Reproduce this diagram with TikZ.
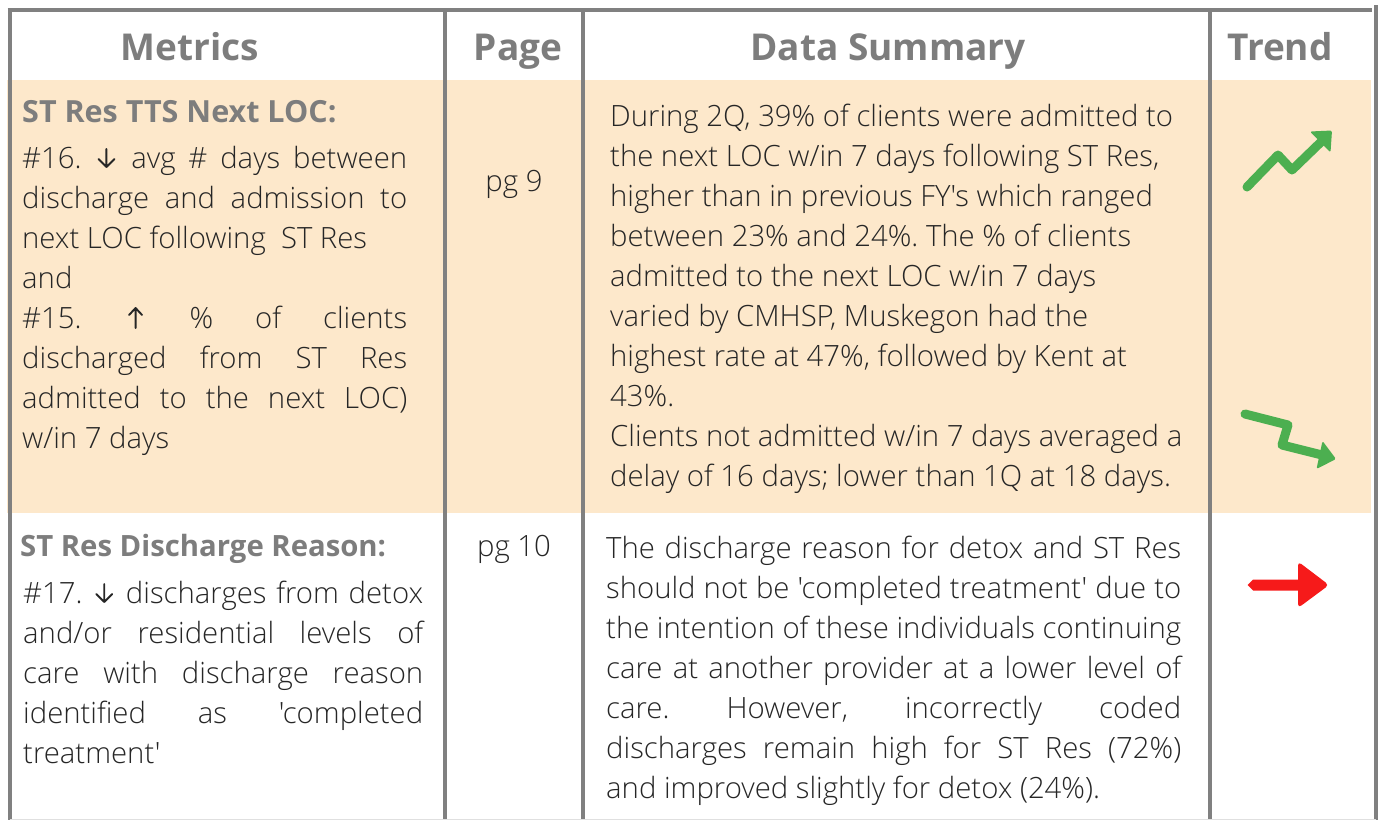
\documentclass[tikz,border=0pt]{standalone}
\usepackage{fontspec}
\newfontfamily\headfont{Open Sans}
\IfFontExistsTF{Open Sans Light}
  {\newfontfamily\bodyfont{Open Sans Light}}
  {\newfontfamily\bodyfont{Open Sans}}
\frenchspacing
\definecolor{peach}{RGB}{253,232,203}
\definecolor{rulegray}{RGB}{128,128,128}
\definecolor{headgray}{RGB}{125,125,125}
\definecolor{ink}{RGB}{38,38,38}
\definecolor{trendgreen}{RGB}{76,175,80}
\definecolor{trendred}{RGB}{246,26,26}
% thin up / down arrows used inside the metric texts
\newsavebox\dnarrowbox
\newsavebox\uparrowbox
\newcommand\arrowglyph[5]{%
  \begin{pgfpicture}
    \pgfsetbaseline{0pt}
    \pgfsetlinewidth{1.9pt}\pgfsetroundcap\pgfsetroundjoin
    \pgfsetstrokecolor{ink}
    \pgfpathmoveto{\pgfpoint{0pt}{#1pt}}\pgfpathlineto{\pgfpoint{0pt}{#2pt}}
    \pgfpathmoveto{\pgfpoint{-#3pt}{#4pt}}\pgfpathlineto{\pgfpoint{0pt}{#2pt}}
    \pgfpathlineto{\pgfpoint{#3pt}{#4pt}}
    \pgfusepath{stroke}
    \pgfpathrectangle{\pgfpoint{-#5pt}{0pt}}{\pgfpoint{2*#5pt}{20pt}}
    \pgfusepath{use as bounding box}
  \end{pgfpicture}}
\newcommand\arrdn{\usebox\dnarrowbox}
\newcommand\arrup{\usebox\uparrowbox}
\tikzset{
  gridline/.style={rulegray, line width=4},
  colhead/.style={anchor=base, inner sep=0, text=headgray, font=\headfont\bfseries\fontsize{37}{44}\selectfont},
  subhead/.style={anchor=base west, inner sep=0, text=headgray, font=\headfont\bfseries\fontsize{29.3}{34}\selectfont},
  bodytext/.style={anchor=base west, inner sep=0, text=ink, font=\bodyfont\fontsize{29.3}{35}\selectfont},
  pagetext/.style={anchor=base, inner sep=0, text=ink, font=\bodyfont\fontsize{29.3}{35}\selectfont},
}
% justified line of a given width, and a plain left-aligned line
\newcommand\jline[4]{\node[bodytext] (#1) at (#2) {\makebox[#3pt][s]{#4}};}
\newcommand\lline[3]{\node[bodytext] (#1) at (#2) {#3};}
\begin{document}
\sbox\dnarrowbox{\arrowglyph{19}{1}{8}{9}{12}}
\sbox\uparrowbox{\arrowglyph{0}{20}{6.5}{13}{12}}
\begin{tikzpicture}[x=1pt,y=-1pt]
\useasboundingbox (0,0) rectangle (1382,820);
% highlighted first row
\fill[peach] (7,80) rectangle (1371,513);
% grid lines
\draw[gridline] (7.5,9.5) -- (1372,9.5);
\draw[gridline] (9.5,8) -- (9.5,820);
\draw[gridline] (445,10) -- (445,820);
\draw[gridline] (582.5,10) -- (582.5,820);
\draw[gridline] (1210,10) -- (1210,820);
\draw[gridline] (1376,5) -- (1376,820);
\draw[black!12, line width=1] (9.5,819) -- (1376,819);
% column headings
\node[colhead] (hMetrics) at (190,60) {Metrics};
\node[colhead] (hPage) at (518,60) {Page};
\node[colhead] (hData) at (888,60) {Data Summary};
\node[colhead] (hTrend) at (1280,60) {Trend};
% row 1: metrics
\node[subhead, font=\headfont\bfseries\fontsize{30.5}{36}\selectfont] (m1t) at (22,122) {ST Res TTS Next LOC:};
\jline{m1a}{22,168}{385}{\#16. \arrdn{} avg \# days between}
\jline{m1b}{22,208}{385}{discharge and admission to}
\lline{m1c}{22,248}{next LOC following \ ST Res}
\lline{m1d}{22,288}{and}
\jline{m1e}{22,328}{385}{\#15. \arrup{} \% of clients}
\jline{m1f}{22,368}{385}{discharged from ST Res}
\jline{m1g}{22,408}{385}{admitted to the next LOC)}
\lline{m1h}{22,448}{w/in 7 days}
% row 1: page
\node[pagetext] (p1) at (514,191) {pg 9};
% row 1: data summary
\lline{d1a}{610,126}{During 2Q, 39\% of clients were admitted to}
\lline{d1b}{610,166}{the next LOC w/in 7 days following ST Res,}
\lline{d1c}{610,206}{higher than in previous FY's which ranged}
\lline{d1d}{610,246}{between 23\% and 24\%. The \% of clients}
\lline{d1e}{610,286}{admitted to the next LOC w/in 7 days}
\lline{d1f}{610,326}{varied by CMHSP, Muskegon had the}
\lline{d1g}{610,366}{highest rate at 47\%, followed by Kent at}
\lline{d1h}{610,406}{43\%.}
\lline{d1i}{610,446}{Clients not admitted w/in 7 days averaged a}
\lline{d1j}{610,486}{delay of 16 days; lower than 1Q at 18 days.}
% row 1: trends
\draw[trendgreen, line width=9, line cap=round, line join=round]
  (1247,187) -- (1278,155) -- (1292,170) -- (1322,141);
\fill[trendgreen, rounded corners=1.5] (1310,131.5) -- (1332,130.5) -- (1330.5,152.5) -- cycle;
\draw[trendgreen, line width=9, line cap=round, line join=round]
  (1245,414) -- (1288,425) -- (1282,445) -- (1322,455);
\fill[trendgreen, rounded corners=1.5] (1322.5,441) -- (1336,459) -- (1316.5,469) -- cycle;
% row 2: metrics
\node[subhead] (m2t) at (20,556) {ST Res Discharge Reason:};
\jline{m2a}{23,603}{400}{\#17. \arrdn{} discharges from detox}
\jline{m2b}{23,643}{400}{and/or residential levels of}
\jline{m2c}{23,683}{400}{care with discharge reason}
\jline{m2d}{23,723}{400}{identified as 'completed}
\lline{m2e}{23,763}{treatment'}
% row 2: page
\node[pagetext] (p2) at (514,556) {pg 10};
% row 2: data summary
\jline{d2a}{606,558}{575}{The discharge reason for detox and ST Res}
\jline{d2b}{606,598}{575}{should not be 'completed treatment' due to}
\jline{d2c}{606,638}{575}{the intention of these individuals continuing}
\jline{d2d}{606,678}{575}{care at another provider at a lower level of}
\jline{d2e}{606,718}{575}{care. However, incorrectly coded}
\jline{d2f}{606,758}{575}{discharges remain high for ST Res (72\%)}
\lline{d2g}{606,798}{and improved slightly for detox (24\%).}
% row 2: trend
\fill[trendred] (1247.5,585) -- (1253,579.5) -- (1301,579.5) -- (1301,590.5) -- (1253,590.5) -- cycle;
\fill[trendred, rounded corners=4] (1298,561.5) -- (1329,585) -- (1298,608) -- cycle;
\end{tikzpicture}
\end{document}
